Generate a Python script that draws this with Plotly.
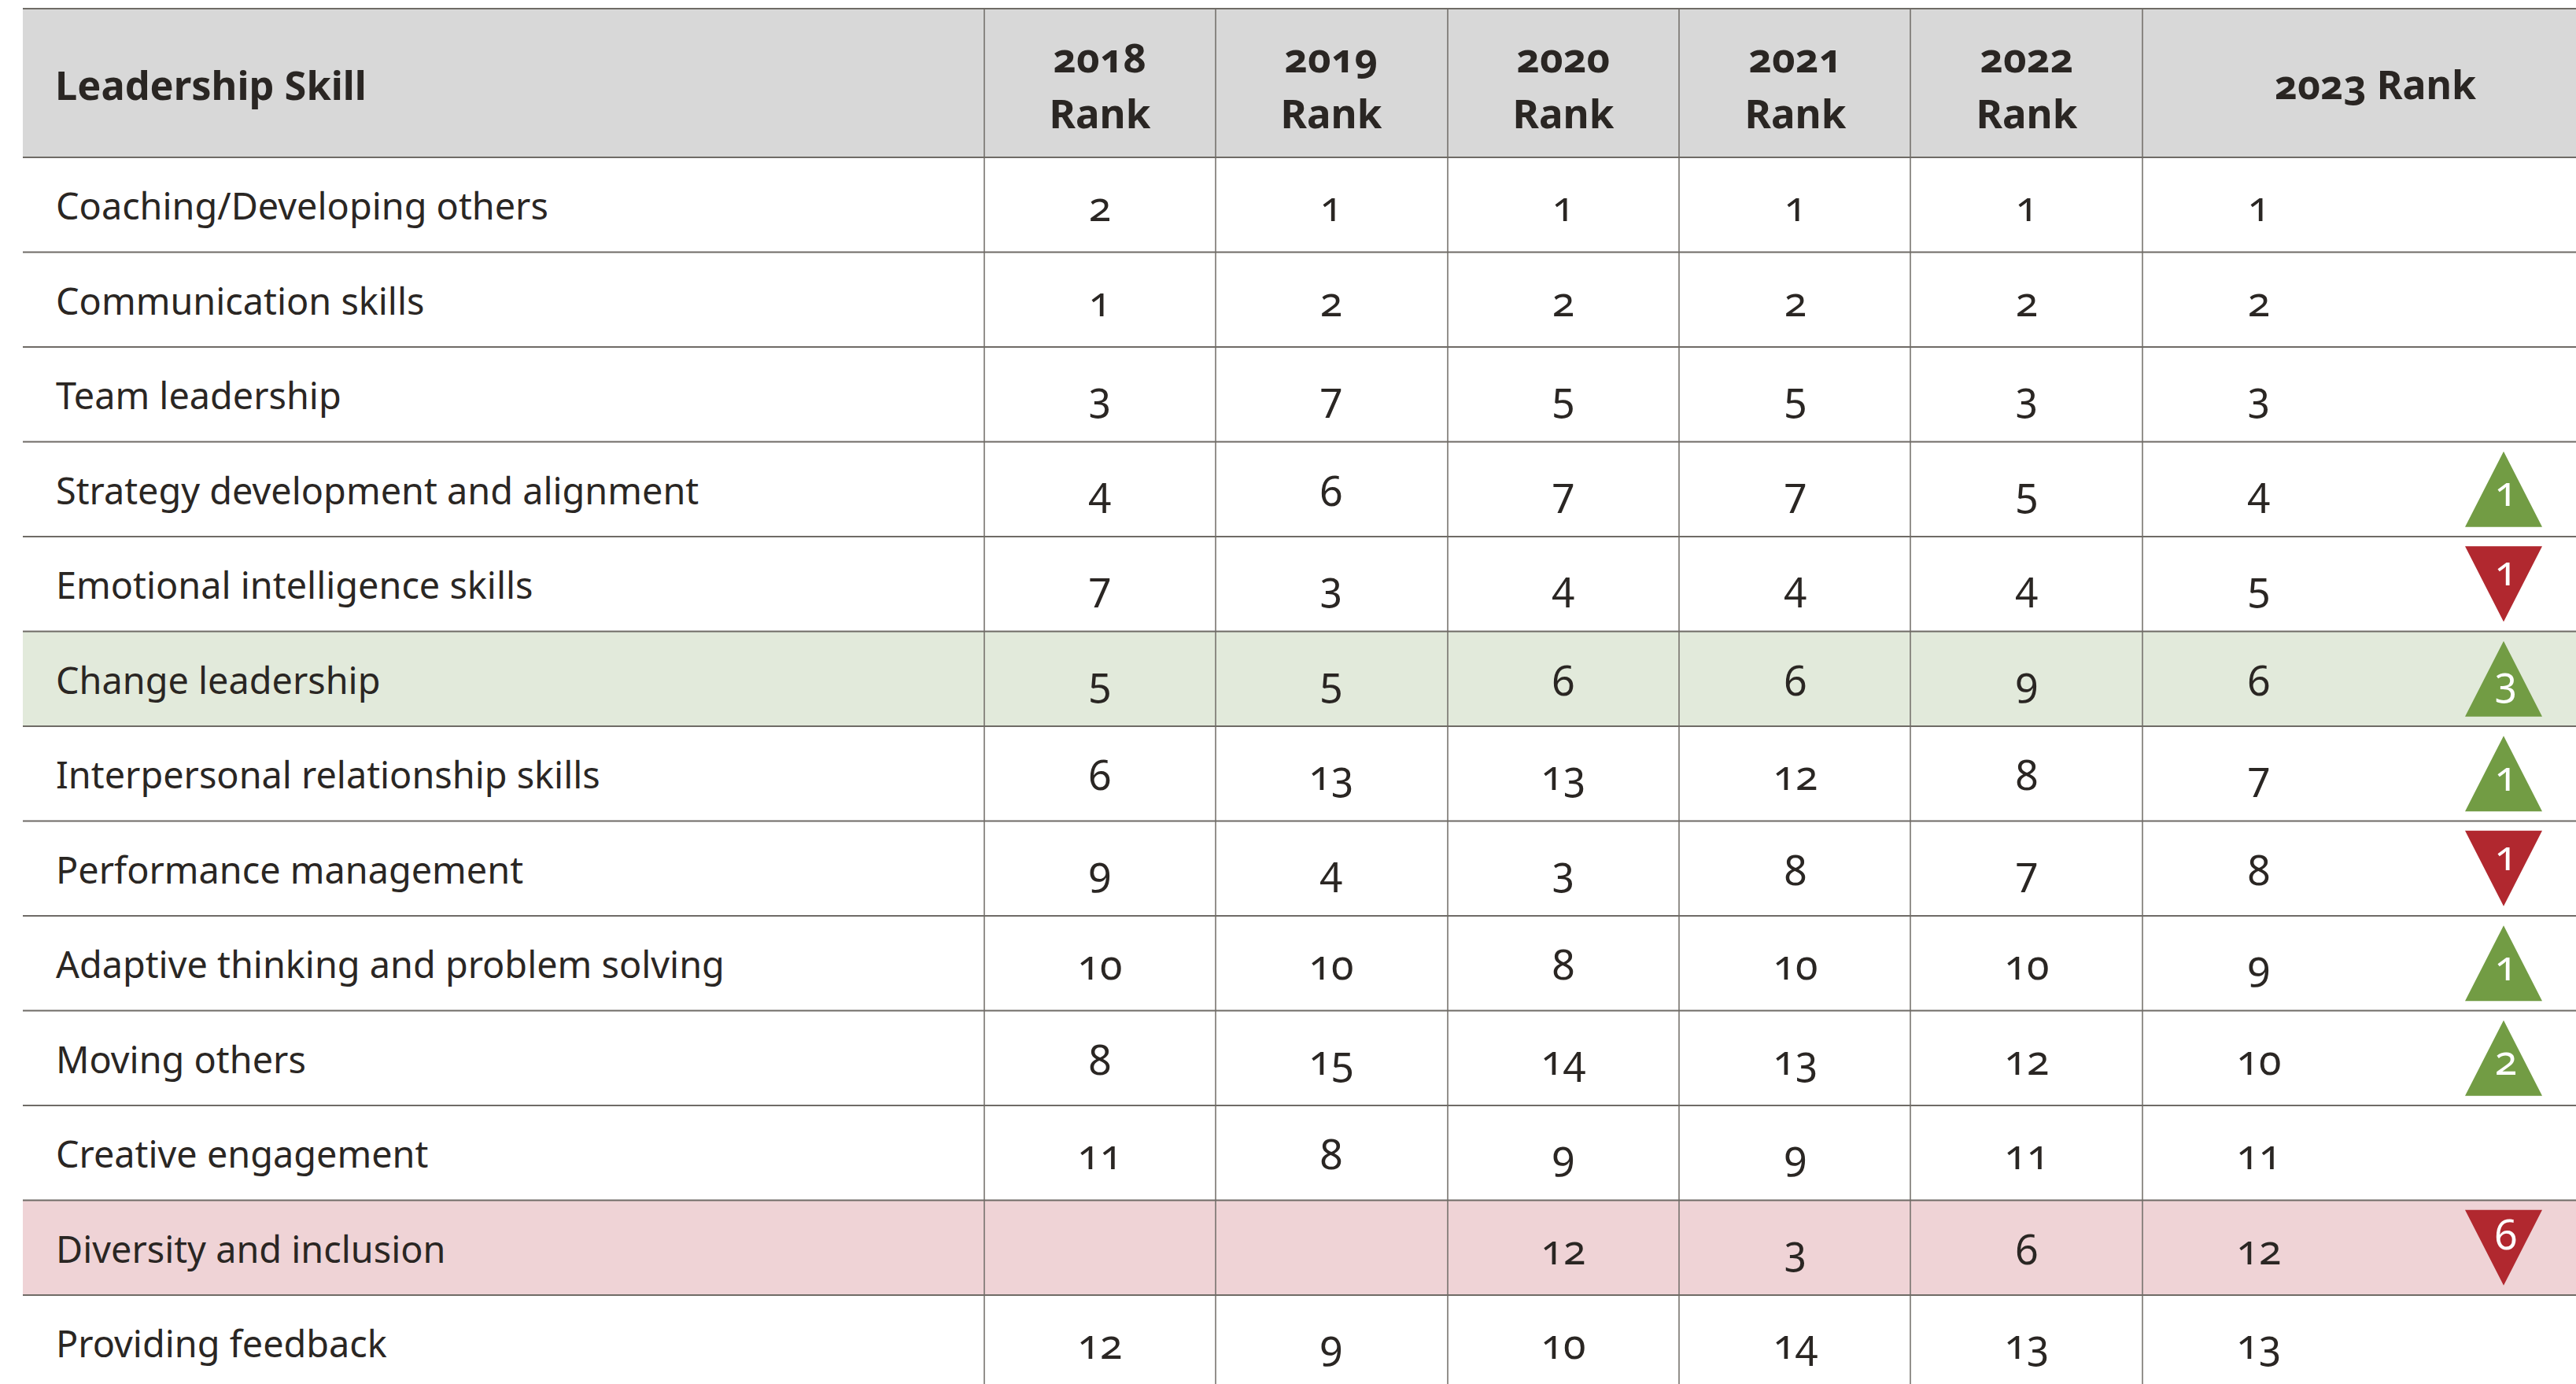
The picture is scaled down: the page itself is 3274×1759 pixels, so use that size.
import plotly.graph_objects as go

skills = ["Coaching/Developing others", "Communication skills", "Team leadership",
          "Strategy development and alignment", "Emotional intelligence skills", "Change leadership",
          "Interpersonal relationship skills", "Performance management",
          "Adaptive thinking and problem solving", "Moving others", "Creative engagement",
          "Diversity and inclusion", "Providing feedback"]
years = ["2018", "2019", "2020", "2021", "2022"]
rank_2018 = [2, 1, 3, 4, 7, 5, 6, 9, 10, 8, 11, None, 12]
rank_2019 = [1, 2, 7, 6, 3, 5, 13, 4, 10, 15, 8, None, 9]
rank_2020 = [1, 2, 5, 7, 4, 6, 13, 3, 8, 14, 9, 12, 10]
rank_2021 = [1, 2, 5, 7, 4, 6, 12, 8, 10, 13, 9, 3, 14]
rank_2022 = [1, 2, 3, 5, 4, 9, 8, 7, 10, 12, 11, 6, 13]
rank_2023 = [1, 2, 3, 4, 5, 6, 7, 8, 9, 10, 11, 12, 13]
change = [None, None, None, 1, -1, 3, 1, -1, 1, 2, None, -6, None]

W, H = 3274, 1759
ROW = 120.5
TOP = 200
FONT = "Noto Sans"
INK = "#2a2623"
LINE = "#6f6b66"
GREEN = "#729c44"
RED = "#b1282f"
col_edges = [1251, 1545, 1840, 2134, 2428, 2723]
col_centers = [1398, 1692, 1987, 2282, 2576, 2871]
TRI_X = 3182
TRI_HALF_W = 49
TRI_HALF_H = 48 / ROW
BASE = 0.065
LABEL_BASE = 0.06

def ry(px):
    return (px - TOP) / ROW

fig = go.Figure()
shapes = [
    dict(type="rect", x0=29, x1=W, y0=ry(11), y1=0, fillcolor="#d8d8d8", line_width=0, layer="below"),
    dict(type="rect", x0=29, x1=W, y0=5, y1=6, fillcolor="#e2eadb", line_width=0, layer="below"),
    dict(type="rect", x0=29, x1=W, y0=11, y1=12, fillcolor="#efd3d6", line_width=0, layer="below"),
]
for y in [ry(11)] + list(range(0, 13)):
    shapes.append(dict(type="line", x0=29, x1=W, y0=y, y1=y, line=dict(color=LINE, width=2), layer="below"))
for x in col_edges:
    shapes.append(dict(type="line", x0=x, x1=x, y0=ry(11), y1=ry(H), line=dict(color=LINE, width=1.5), layer="below"))

# triangles
for sign, color in ((1, GREEN), (-1, RED)):
    xs, ys = [], []
    for i, c in enumerate(change):
        if c is None or (c > 0) != (sign > 0):
            continue
        m = i + 0.5
        xs += [TRI_X - TRI_HALF_W, TRI_X, TRI_X + TRI_HALF_W, None]
        ys += [m + sign * TRI_HALF_H, m - sign * TRI_HALF_H, m + sign * TRI_HALF_H, None]
    fig.add_trace(go.Scatter(x=xs, y=ys, mode="lines", fill="toself", fillcolor=color, line=dict(width=0), hoverinfo="skip"))

# labels
fig.add_trace(go.Scatter(x=[71] * len(skills), y=[i + 0.5 + LABEL_BASE for i in range(len(skills))], mode="text", text=skills,
                         textposition="middle right", textfont=dict(family=FONT, size=46.8, color=INK)))
for cx, vals in zip(col_centers, [rank_2018, rank_2019, rank_2020, rank_2021, rank_2022, rank_2023]):
    pts = [(i, v) for i, v in enumerate(vals) if v is not None]
    fig.add_trace(go.Scatter(x=[cx] * len(pts), y=[i + 0.5 + BASE for i, _ in pts], mode="text",
                             text=[str(v) for _, v in pts], textposition="middle center",
                             textfont=dict(family=FONT, size=52, color=INK)))
ch = [(i, c) for i, c in enumerate(change) if c is not None]
fig.add_trace(go.Scatter(x=[TRI_X + 3] * len(ch), y=[i + 0.5 + (0.07 if c > 0 else -0.09) for i, c in ch], mode="text",
                         text=[str(abs(c)) for _, c in ch], textposition="middle center",
                         textfont=dict(family=FONT, size=52, color="white")))
# header
fig.add_trace(go.Scatter(x=[70], y=[ry(114)], mode="text", text=["<b>Leadership Skill</b>"], textposition="middle right",
                         textfont=dict(family=FONT, size=50.5, color=INK)))
fig.add_trace(go.Scatter(x=col_centers[:5], y=[ry(79)] * 5, mode="text", text=[f"<b>{y}</b>" for y in years],
                         textposition="middle center", textfont=dict(family=FONT, size=51, color=INK)))
fig.add_trace(go.Scatter(x=col_centers[:5], y=[ry(150)] * 5, mode="text", text=["<b>Rank</b>"] * 5,
                         textposition="middle center", textfont=dict(family=FONT, size=51, color=INK)))
fig.add_trace(go.Scatter(x=[3019], y=[ry(113)], mode="text", text=["<b>2023 Rank</b>"], textposition="middle center",
                         textfont=dict(family=FONT, size=50, color=INK)))

fig.update_layout(width=W, height=H, margin=dict(l=0, r=0, t=0, b=0), paper_bgcolor="white", plot_bgcolor="white",
                  showlegend=False, shapes=shapes,
                  xaxis=dict(range=[0, W], visible=False, fixedrange=True),
                  yaxis=dict(range=[ry(H), ry(0)], visible=False, fixedrange=True))
post = """
document.body.style.margin='0';document.body.style.overflow='hidden';
var s=document.createElement('style');
s.textContent='text{font-feature-settings:"onum" 1;font-variant-numeric:oldstyle-nums;}';
document.head.appendChild(s);
"""
fig.write_html("out.html", post_script=post, config={"displayModeBar": False})
